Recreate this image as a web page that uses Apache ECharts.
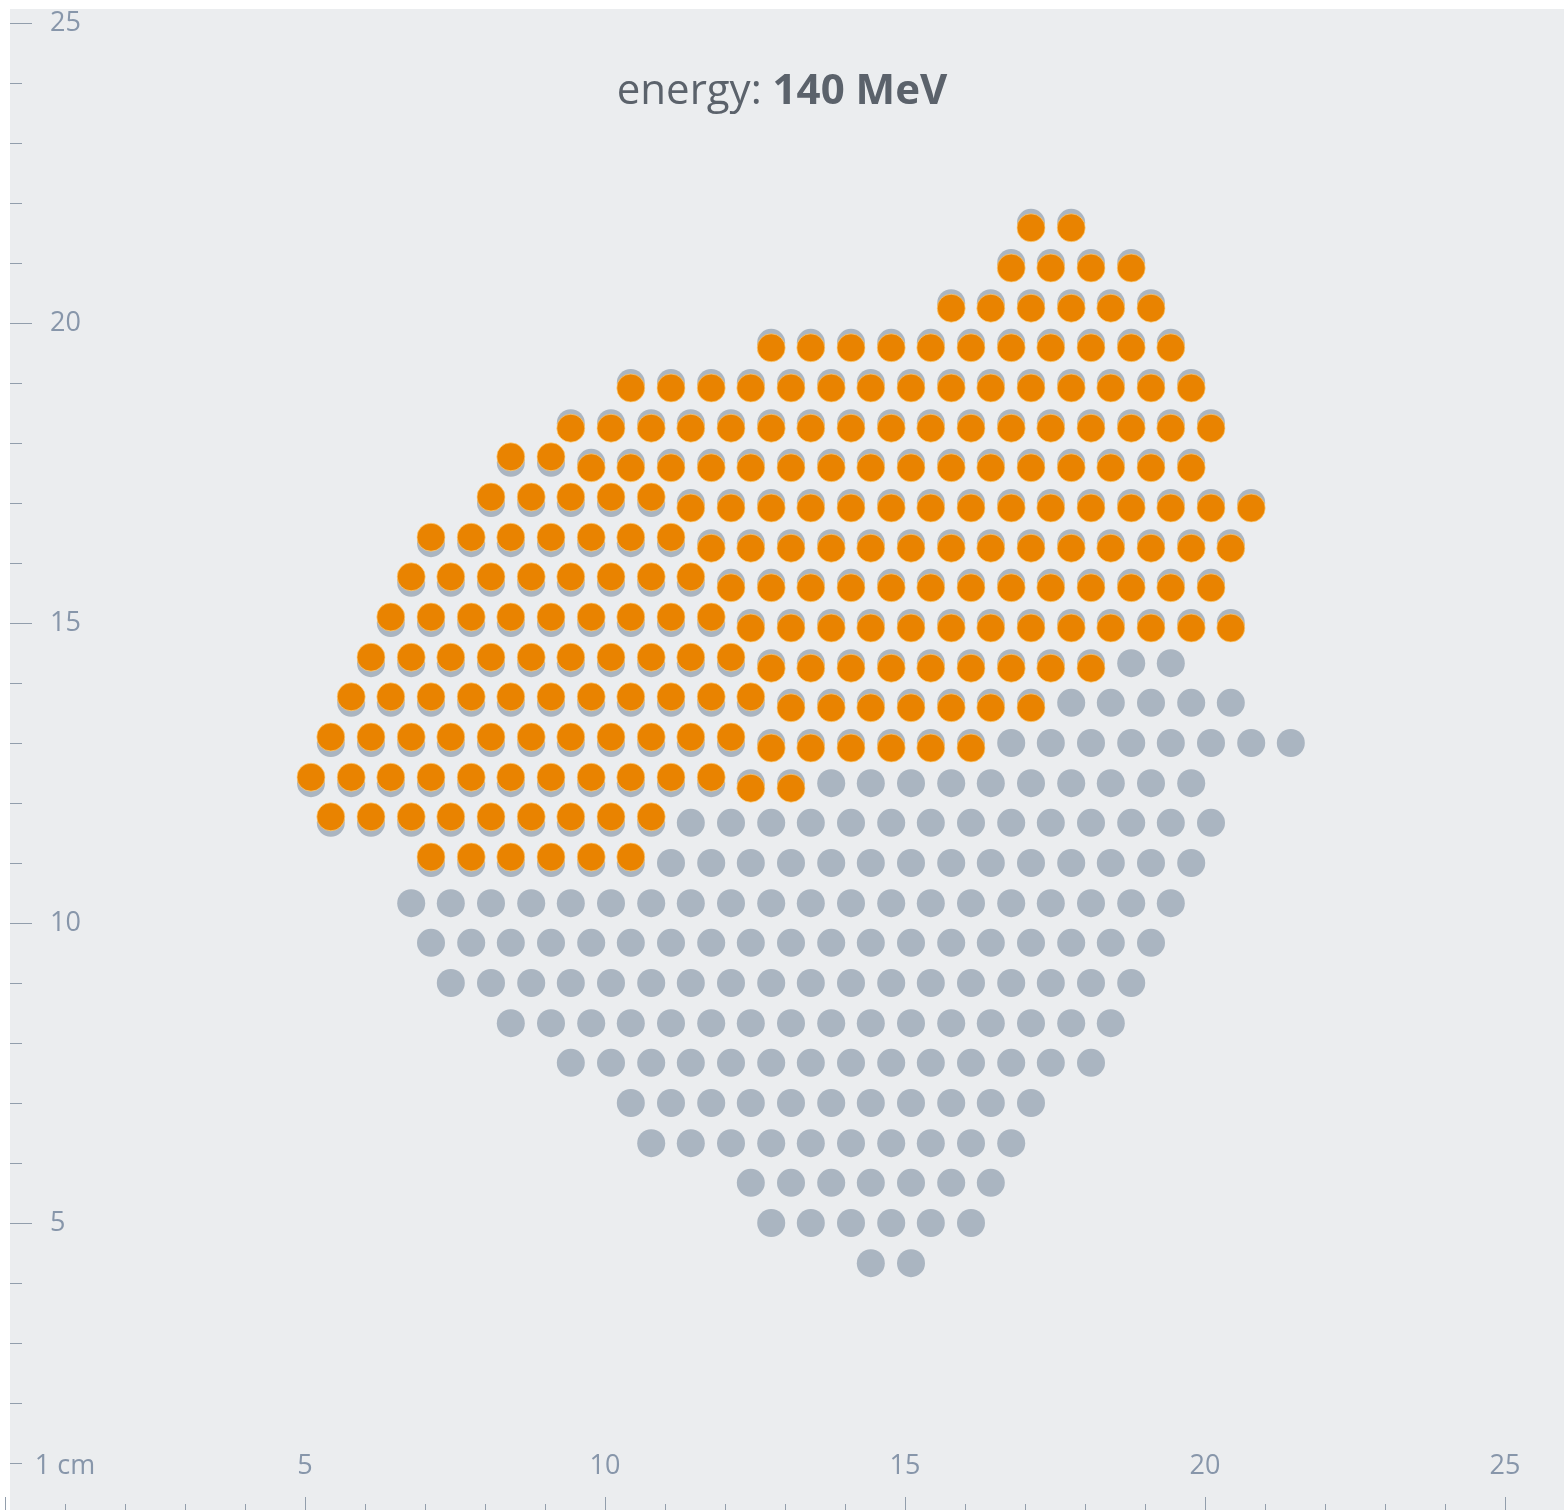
<!DOCTYPE html>
<html>
<head>
<meta charset="utf-8">
<title>energy 140 MeV</title>
<script src="https://cdn.jsdelivr.net/npm/echarts@6/dist/echarts.min.js"></script>
<style>
  html, body { margin: 0; padding: 0; background: #fff; }
  #wrap { position: relative; width: 1564px; height: 1510px; overflow: hidden; }
  #panel { position: absolute; left: 10px; top: 9px; right: 0; bottom: 0; background: #ebedef; }
  #chart { position: absolute; left: 0; top: 0; width: 1564px; height: 1510px; }
</style>
</head>
<body>
<div id="wrap"><div id="panel"></div><div id="chart"></div></div>
<script>
// spot map, top row first. '.' no spot, '#' planned spot,
// 'o' / 'O' spot delivered at this energy (two scan passes)
var spotRows = [
  '..... ..... ..... ...OO .....',
  '..... ..... ..... ..OOO O....',
  '..... ..... ..... .OOOO OO...',
  '..... ..... .OOOO OOOOO OO...',
  '..... ...OO OOOOO OOOOO OOO..',
  '..... .OOOO OOOOO OOOOO OOO..',
  '..... ooOOO OOOOO OOOOO OOO..',
  '....o ooooO OOOOO OOOOO OOOO.',
  '...oo ooooo OOOOO OOOOO OOOO.',
  '..ooo ooooo OOOOO OOOOO OOO..',
  '..ooo ooooo oOOOO OOOOO OOOO.',
  '.oooo ooooo oOOOO OOOOO ##...',
  '.oooo ooooo ooOOO OOOO# ####.',
  'ooooo ooooo oOOOO OO### #####',
  'ooooo ooooo oOO## ##### ###..',
  'ooooo oooo# ##### ##### ###..',
  '...oo oooo# ##### ##### ###..',
  '..### ##### ##### ##### ##...',
  '...## ##### ##### ##### ##...',
  '...## ##### ##### ##### #....',
  '..... ##### ##### ##### #....',
  '..... .#### ##### ##### .....',
  '..... ...## ##### ####. .....',
  '..... ...## ##### ###.. .....',
  '..... ..... .#### ###.. .....',
  '..... ..... .#### ##... .....',
  '..... ..... ....# #.... .....'
];

// row positions (cm), top row first
var rowY = [21.67, 21.00, 20.33, 19.67, 19.00, 18.33, 17.67, 17.00, 16.33,
  15.67, 15.00, 14.33, 13.67, 13.00, 12.33, 11.67, 11.00, 10.33, 9.67,
  9.00, 8.33, 7.67, 7.00, 6.33, 5.67, 5.00, 4.33];

// column positions (cm) for the two staggered row types
var xEven = [5.10, 5.77, 6.43, 7.10, 7.77, 8.43, 9.10, 9.77, 10.43, 11.10,
  11.77, 12.43, 13.10, 13.77, 14.43, 15.10, 15.77, 16.43, 17.10, 17.77,
  18.43, 19.10, 19.77, 20.43, 21.10];
var xOdd = [5.43, 6.10, 6.77, 7.43, 8.10, 8.77, 9.43, 10.10, 10.77, 11.43,
  12.10, 12.77, 13.43, 14.10, 14.77, 15.43, 16.10, 16.77, 17.43, 18.10,
  18.77, 19.43, 20.10, 20.77, 21.43];

var energyLabel = '140 MeV';

var greyPts = [], upPts = [], downPts = [];
spotRows.forEach(function (row, i) {
  var cells = row.replace(/ /g, '');
  var xs = i % 2 === 0 ? xEven : xOdd;
  for (var s = 0; s < cells.length; s++) {
    var ch = cells[s];
    if (ch === '.') continue;
    var p = [xs[s], rowY[i]];
    greyPts.push(p);
    if (ch === 'o') upPts.push(p);
    if (ch === 'O') downPts.push(p);
  }
});

var font = 'Open Sans';
var labelColor = '#8796aa';
var tickColor = '#929eac';
var orange = '#e98300';

var chart = echarts.init(document.getElementById('chart'));
chart.setOption({
  animation: false,
  backgroundColor: 'transparent',
  title: {
    text: '{n|energy: }{b|' + energyLabel + '}',
    left: 'center',
    top: 66,
    textStyle: {
      fontWeight: 'normal',
      rich: {
        n: { fontFamily: font, fontSize: 42, fontWeight: 'normal', color: '#5b626b' },
        b: { fontFamily: font, fontSize: 42, fontWeight: 'bold', color: '#5b626b' }
      }
    }
  },
  grid: { left: 5, right: 59, top: 23, bottom: -13, outerBoundsMode: 'none' },
  xAxis: [
    {
      type: 'value', min: 0, max: 25, interval: 5, position: 'bottom',
      axisLine: { show: false },
      splitLine: { show: false },
      axisTick: { inside: true, length: 26, lineStyle: { color: tickColor } },
      minorTick: { show: true, splitNumber: 5, length: 19, lineStyle: { color: tickColor } },
      axisLabel: {
        inside: true, margin: 43, color: labelColor, fontSize: 27, fontFamily: font,
        showMinLabel: false
      }
    },
    {
      type: 'value', min: 0, max: 25, interval: 1, position: 'bottom',
      axisLine: { show: false },
      splitLine: { show: false },
      axisTick: { show: false },
      axisLabel: {
        inside: true, margin: 43, color: labelColor, fontSize: 27, fontFamily: font,
        formatter: function (v) { return v === 1 ? '1 cm' : ''; }
      }
    }
  ],
  yAxis: {
    type: 'value', min: 0, max: 25, interval: 5, offset: -5,
    axisLine: { show: false },
    splitLine: { show: false },
    axisTick: { inside: true, length: 22, lineStyle: { color: tickColor } },
    minorTick: { show: true, splitNumber: 5, length: 12, lineStyle: { color: tickColor } },
    axisLabel: {
      inside: true, margin: 40, color: labelColor, fontSize: 27, fontFamily: font,
      padding: [6, 0, 0, 0],
      showMinLabel: false
    }
  },
  series: [
    {
      name: 'planned', type: 'scatter', symbolSize: 28, data: greyPts,
      itemStyle: { color: '#aab5c1', opacity: 1 }
    },
    {
      name: 'delivered', type: 'scatter', symbolSize: 28, symbolOffset: [0, -6], data: upPts,
      itemStyle: { color: orange, opacity: 1, borderColor: 'rgba(255,205,120,0.7)', borderWidth: 1 }
    },
    {
      name: 'delivered', type: 'scatter', symbolSize: 28, symbolOffset: [0, 5], data: downPts,
      itemStyle: { color: orange, opacity: 1, borderColor: 'rgba(255,205,120,0.7)', borderWidth: 1 }
    }
  ]
});
</script>
</body>
</html>
